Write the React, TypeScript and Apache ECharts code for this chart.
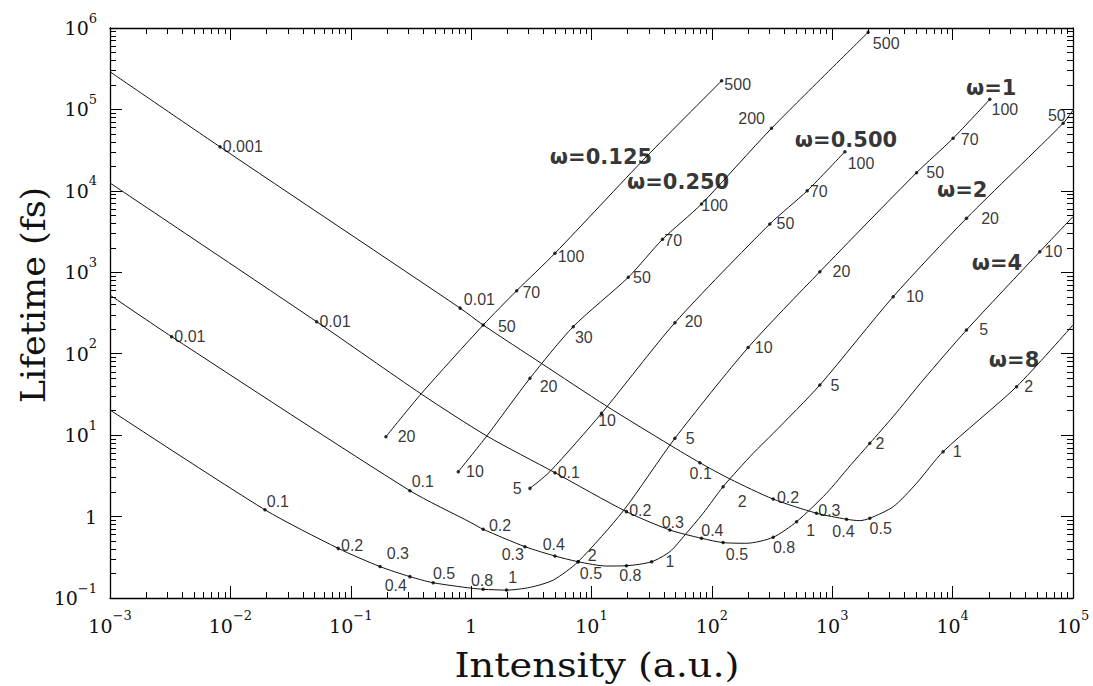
import React, { useEffect, useRef } from 'react';
import * as echarts from 'echarts';

// Each curve: [intensity (a.u.), lifetime (fs), optional point label]
type Pt = [number, number] | [number, number, string];

const omega0125: Pt[] = [
  [0.196, 9.57, '20'],
  [0.388, 32.7],
  [1.26, 225, '50'],
  [2.39, 594, '70'],
  [4.97, 1710, '100'],
  [28.6, 26300],
  [120.5, 225000, '500'],
];

const omega025: Pt[] = [
  [0.782, 3.56, '10'],
  [1.35, 9.77],
  [3.08, 49.9, '20'],
  [7.05, 215, '30'],
  [20.2, 867, '50'],
  [38.9, 2540, '70'],
  [82.0, 6900, '100'],
  [313, 58600, '200'],
  [1986, 885000, '500'],
];

const omega05: Pt[] = [
  [3.08, 2.22, '5'],
  [4.51, 3.56],
  [12.1, 18.5, '10'],
  [49.3, 240, '20'],
  [303, 3920, '50'],
  [619, 10000, '70'],
  [1274, 30300, '100'],
];

const omega1: Pt[] = [
  [0.001, 20.4],
  [0.0194, 1.21, '0.1'],
  [0.0787, 0.407, '0.2'],
  [0.175, 0.243, '0.3'],
  [0.31, 0.183, '0.4'],
  [0.484, 0.154, '0.5'],
  [1, 0.132],
  [1.26, 0.128, '0.8'],
  [1.97, 0.125, '1'],
  [3.08, 0.135],
  [4.81, 0.166],
  [7.74, 0.279, '2'],
  [18.4, 1.18],
  [49.3, 9.14, '5'],
  [200, 119, '10'],
  [789, 1016, '20'],
  [5012, 16700, '50'],
  [10090, 44200, '70'],
  [20370, 133000, '100'],
];

const omega2: Pt[] = [
  [0.001, 525],
  [0.00325, 162, '0.01'],
  [0.31, 2.08, '0.1'],
  [1, 0.841],
  [1.26, 0.698, '0.2'],
  [2.8, 0.427, '0.3'],
  [4.97, 0.328, '0.4'],
  [7.74, 0.279, '0.5'],
  [13.3, 0.247],
  [19.5, 0.249, '0.8'],
  [31.6, 0.279, '1'],
  [44.8, 0.371],
  [59.7, 0.594],
  [84.7, 1.1],
  [124, 2.33, '2'],
  [220, 5.98],
  [323, 10.5],
  [789, 41.3, '5'],
  [3206, 501, '10'],
  [13030, 4600, '20'],
  [82800, 67600, '50'],
  [100000, 98000],
];

const omega4: Pt[] = [
  [0.001, 12500],
  [0.0521, 247, '0.01'],
  [0.388, 31.8],
  [1.35, 9.77],
  [4.97, 3.46, '0.1'],
  [19.5, 1.15, '0.2'],
  [44.8, 0.684, '0.3'],
  [82.0, 0.541, '0.4'],
  [124, 0.479, '0.5'],
  [194, 0.47],
  [323, 0.557, '0.8'],
  [505, 0.865, '1'],
  [895, 1.93],
  [1400, 4.18],
  [2051, 7.94, '2'],
  [3206, 16.9],
  [5689, 47.5],
  [13030, 195, '5'],
  [52970, 1790, '10'],
  [100000, 4820],
];

const omega8: Pt[] = [
  [0.001, 290000],
  [0.0082, 34700, '0.001'],
  [0.81, 363, '0.01'],
  [1.26, 225],
  [3.83, 76.2],
  [13.3, 22.8],
  [44.8, 7.57],
  [79.4, 4.59, '0.1'],
  [141, 2.9],
  [323, 1.64, '0.2'],
  [740, 1.1, '0.3'],
  [1315, 0.927, '0.4'],
  [1694, 0.891],
  [2051, 0.953, '0.5'],
  [3206, 1.32],
  [5012, 2.56],
  [8337, 6.27, '1'],
  [33960, 39.4, '2'],
  [100000, 225],
];

const curves: { key: string; pts: Pt[] }[] = [
  { key: '0.125', pts: omega0125 },
  { key: '0.25', pts: omega025 },
  { key: '0.5', pts: omega05 },
  { key: '1', pts: omega1 },
  { key: '2', pts: omega2 },
  { key: '4', pts: omega4 },
  { key: '8', pts: omega8 },
];

// Curve tags (text) and where their left edge sits, in data space
const omegaTags = ['ω=0.125', 'ω=0.250', 'ω=0.500', 'ω=1', 'ω=2', 'ω=4', 'ω=8'];
const omegaTagAnchors: [number, number][] = [
  [4.51, 26000],
  [19.7, 12900],
  [489, 42000],
  [12900, 183000],
  [7400, 10300],
  [14400, 1300],
  [20000, 84],
];

// Styling: offset [dx, dy] of each point label (left edge / vertical middle) from its marker
const labelOffsets: Record<string, [number, number]> = {
  '8:0.001': [3, 0], '8:0.01': [4, -8], '8:0.1': [-10, 11], '8:0.2': [4, -1], '8:0.3': [2, -2],
  '8:0.4': [-14, 12], '8:0.5': [0, 10], '8:1': [10, 0], '8:2': [8, 0],
  '4:0.01': [3, 0], '4:0.1': [3, 0], '4:0.2': [3, -1], '4:0.3': [-8, -7], '4:0.4': [0, -8],
  '4:0.5': [3, 12], '4:0.8': [0, 10], '4:1': [10, 9], '4:2': [6, 0], '4:5': [13, 0], '4:10': [5, 0],
  '2:0.01': [3, 0], '2:0.1': [2, -9], '2:0.2': [6, -4], '2:0.3': [-23, 8], '2:0.4': [-12, -11],
  '2:0.5': [2, 12], '2:0.8': [-7, 10], '2:1': [14, 0], '2:2': [15, 15], '2:5': [11, 1],
  '2:10': [13, 0], '2:20': [15, 0], '2:50': [-15, -8],
  '1:0.1': [2, -8], '1:0.2': [3, -3], '1:0.3': [7, -13], '1:0.4': [-25, 9], '1:0.5': [0, -9],
  '1:0.8': [-12, -9], '1:1': [2, -12], '1:2': [10, -6], '1:5': [11, 0], '1:10': [7, 0],
  '1:20': [13, 0], '1:50': [10, 0], '1:70': [8, 1], '1:100': [2, 10],
  '0.5:5': [-17, 0], '0.5:10': [-3, 7], '0.5:20': [10, -1], '0.5:50': [7, 0], '0.5:70': [3, 1],
  '0.5:100': [3, 12],
  '0.25:10': [8, 0], '0.25:20': [10, 8], '0.25:30': [2, 11], '0.25:50': [5, 0], '0.25:70': [2, 1],
  '0.25:100': [0, 2], '0.25:200': [-33, -10], '0.25:500': [5, 11],
  '0.125:20': [12, 0], '0.125:50': [15, 2], '0.125:70': [6, 2], '0.125:100': [3, 3],
  '0.125:500': [3, 4],
};

const SERIF = '"DejaVu Serif", "Liberation Serif", serif';
const SANS = '"Liberation Sans", Arial, sans-serif';

const powLabel = (v: number) => {
  const e = Math.round(Math.log10(v));
  if (e === 0) return '{b|1}';
  return `{b|10}{s|${e < 0 ? '−' + -e : String(e)}}`;
};

const tickRich = {
  b: { fontFamily: SERIF, fontSize: 19, color: '#111', lineHeight: 33, verticalAlign: 'middle' },
  s: { fontFamily: SERIF, fontSize: 13, color: '#111', lineHeight: 14, verticalAlign: 'top' },
};

const axisBase = {
  type: 'log' as const,
  logBase: 10,
  axisLine: { show: true, onZero: false, lineStyle: { color: '#000', width: 1.3 } },
  axisTick: { show: true, inside: true, length: 12, lineStyle: { color: '#000', width: 1 } },
  minorTick: { show: true, splitNumber: 9, length: 6, lineStyle: { color: '#000', width: 1 } },
  splitLine: { show: false },
  minorSplitLine: { show: false },
};

export default function App() {
  const ref = useRef<HTMLDivElement>(null);

  useEffect(() => {
    if (!ref.current) return;
    const chart = echarts.init(ref.current, undefined, { renderer: 'svg' });

    const series: any[] = [];
    curves.forEach((c) => {
      series.push({
        type: 'line',
        name: 'ω=' + c.key,
        data: c.pts.map((p) => [p[0], p[1]]),
        showSymbol: false,
        smooth: 0.25,
        silent: true,
        lineStyle: { color: '#111', width: 1 },
        z: 2,
      });
      series.push({
        type: 'scatter',
        data: c.pts
          .filter((p) => p.length === 3)
          .map((p) => {
            const off = labelOffsets[c.key + ':' + p[2]] || [4, 0];
            return {
              name: p[2] as string,
              value: [p[0], p[1]],
              label: { position: [off[0] + 1.5, off[1] + 1.5] },
            };
          }),
        symbol: 'circle',
        symbolSize: 3.5,
        silent: true,
        itemStyle: { color: '#000' },
        label: {
          show: true,
          formatter: (p: any) => p.name,
          align: 'left',
          verticalAlign: 'middle',
          fontFamily: SANS,
          fontSize: 16,
          color: '#000',
        },
        z: 3,
      });
    });

    series.push({
      type: 'scatter',
      data: omegaTagAnchors.map((a, i) => ({ name: omegaTags[i], value: a })),
      symbolSize: 1,
      silent: true,
      itemStyle: { color: 'transparent' },
      label: {
        show: true,
        formatter: (p: any) => p.name,
        position: [0.5, 0.5],
        align: 'left',
        verticalAlign: 'middle',
        fontFamily: '"DejaVu Sans", sans-serif',
        fontWeight: 'bold',
        fontSize: 21,
        color: '#000',
      },
      z: 4,
    });

    chart.setOption({
      animation: false,
      backgroundColor: '#fff',
      grid: { left: 110, right: 20, top: 28, bottom: 88, containLabel: false },
      xAxis: [
        {
          ...axisBase,
          min: 1e-3,
          max: 1e5,
          splitNumber: 8,
          position: 'bottom',
          axisLabel: { show: true, formatter: powLabel, rich: tickRich, margin: 11 },
        },
        {
          ...axisBase,
          min: 1e-3,
          max: 1e5,
          splitNumber: 8,
          position: 'top',
          axisLabel: { show: false },
        },
      ],
      yAxis: [
        {
          ...axisBase,
          min: 0.1,
          max: 1e6,
          splitNumber: 7,
          position: 'left',
          axisLabel: { show: true, formatter: powLabel, rich: tickRich, margin: 13 },
        },
        {
          ...axisBase,
          min: 0.1,
          max: 1e6,
          splitNumber: 7,
          position: 'right',
          axisLabel: { show: false },
        },
      ],
      graphic: [
        {
          type: 'text',
          x: 597,
          y: 665,
          scaleX: 1.16,
          style: {
            text: 'Intensity (a.u.)',
            font: `33px ${SERIF}`,
            fill: '#111',
            textAlign: 'center',
            textVerticalAlign: 'middle',
            align: 'center',
            verticalAlign: 'middle',
          },
        },
        {
          type: 'text',
          x: 33,
          y: 295,
          rotation: Math.PI / 2,
          scaleX: 1.06,
          style: {
            text: 'Lifetime (fs)',
            font: `33px ${SERIF}`,
            fill: '#111',
            textAlign: 'center',
            textVerticalAlign: 'middle',
            align: 'center',
            verticalAlign: 'middle',
          },
        },
      ],
      series,
    });

    return () => chart.dispose();
  }, []);

  return (
    <div
      ref={ref}
      style={{ position: 'absolute', left: 0, top: 0, width: 1093, height: 686, background: '#fff' }}
    />
  );
}
